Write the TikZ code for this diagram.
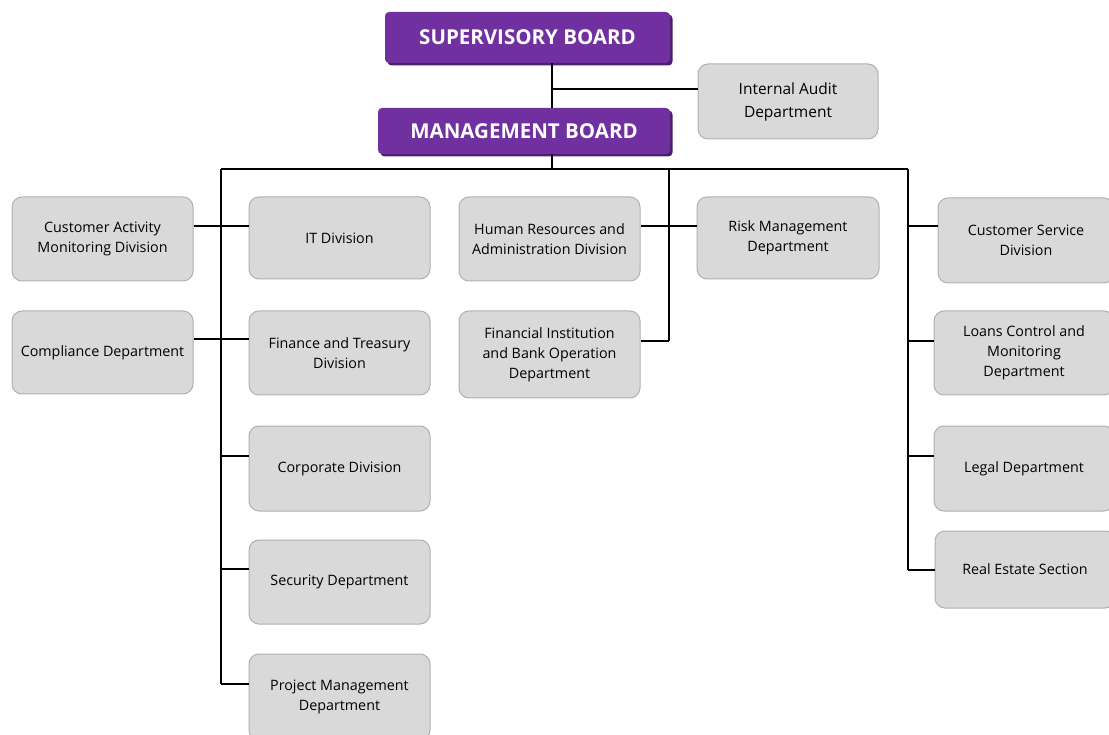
\documentclass[tikz,border=0pt]{standalone}
\usepackage{fontspec}
\setmainfont{Open Sans}
\usetikzlibrary{shadows}
\definecolor{boardPurple}{HTML}{7030A0}
\definecolor{boardShade}{HTML}{4B1F6C}
\definecolor{boxGrey}{HTML}{D9D9D9}
\definecolor{boxLine}{HTML}{B0B0B0}
\tikzstyle{bS}=[rectangle,rounded corners=4pt,fill=boardPurple,text=white,inner sep=0pt,
  font=\fontsize{20.5}{24}\selectfont\bfseries,
  drop shadow={shadow xshift=2.5pt,shadow yshift=-2.5pt,fill=boardShade,opacity=1}]
\tikzstyle{dS}=[rectangle,rounded corners=10pt,fill=boxGrey,draw=boxLine,line width=1pt,
  minimum width=181pt,minimum height=83pt,inner sep=0pt,align=center,
  font=\fontsize{14.3}{20}\selectfont]
\tikzstyle{eS}=[line width=2pt,black]

\begin{document}
\begin{tikzpicture}[x=1pt,y=-1pt]
                \useasboundingbox (0,0) rectangle (1109,735);
                % boards
                \draw (527.5,37.5) node[bS,minimum width=285pt,minimum height=51pt] (sb) {SUPERVISORY BOARD};
                \draw (524,131) node[bS,minimum width=292pt,minimum height=46pt] (mb) {MANAGEMENT BOARD};
                \draw (788,101.5) node[dS,minimum width=180pt,minimum height=75pt,font=\fontsize{15.5}{23}\selectfont] (ia) {Internal Audit\\Department};
                % left column
                \draw (102.5,239) node[dS,minimum height=84pt] (cam) {Customer Activity\\Monitoring Division};
                \draw (102.5,352.5) node[dS] (cd) {Compliance Department};
                \draw (339.5,238) node[dS,minimum height=82pt] (itd) {IT Division};
                \draw (339.5,353) node[dS,minimum height=84pt] (ftd) {Finance and Treasury\\Division};
                \draw (339.5,468.5) node[dS,minimum height=85pt] (cod) {Corporate Division};
                \draw (339.5,582) node[dS,minimum height=84pt] (sd) {Security Department};
                \draw (339.5,697) node[dS,minimum height=86pt] (pmd) {Project Management\\Department};
                % middle
                \draw (549.5,239) node[dS,minimum height=84pt] (hr) {Human Resources and\\Administration Division};
                \draw (549.5,354.5) node[dS,minimum height=87pt] (fib) {Financial Institution\\and Bank Operation\\Department};
                \draw (788,238) node[dS,minimum width=182pt,minimum height=82pt] (rmd) {Risk Management\\Department};
                % right column
                \draw (1026,240.5) node[dS,minimum width=176pt,minimum height=85pt] (csd) {Customer Service\\Division};
                \draw (1024,353) node[dS,minimum width=180pt,minimum height=84pt] (lcm) {Loans Control and\\Monitoring\\Department};
                \draw (1024,468.5) node[dS,minimum width=180pt,minimum height=85pt] (ld) {Legal Department};
                \draw (1025,569.5) node[dS,minimum width=180pt,minimum height=77pt] (res) {Real Estate Section};
                % spine points
                \coordinate (top) at (552,89);
                \coordinate (spL) at (221,169);
                \coordinate (spM) at (669,169);
                \coordinate (spR) at (908,169);
                \draw[eS] (sb.south -| top) -- (mb.north -| top);
                \draw[eS] (top) -- (ia.west |- top);
                \draw[eS] (mb.south -| top) -- (top |- spL);
                \draw[eS] (spL) -- (spR);
                \draw[eS] (spL) -- ([yshift=13pt]spL |- pmd.west);
                \draw[eS] (spM) -- ([yshift=13pt]spM |- fib.east);
                \draw[eS] (spR) -- ([yshift=-0.5pt]spR |- res.west);
                \path[eS]
                    ([yshift=13pt]cam.east) edge ([yshift=13pt]cam.east -| itd.west)
                    ([yshift=13pt]cd.east) edge ([yshift=13pt]cd.east -| ftd.west)
                    ([yshift=13pt]spL |- cod.west) edge ([yshift=13pt]cod.west)
                    ([yshift=13pt]spL |- sd.west) edge ([yshift=13pt]sd.west)
                    ([yshift=13pt]spL |- pmd.west) edge ([yshift=13pt]pmd.west)
                    ([yshift=13pt]hr.east) edge ([yshift=13pt]hr.east -| rmd.west)
                    ([yshift=13pt]fib.east) edge ([yshift=13pt]fib.east -| spM)
                    ([yshift=14pt]spR |- csd.west) edge ([yshift=14pt]csd.west)
                    ([yshift=12pt]spR |- lcm.west) edge ([yshift=12pt]lcm.west)
                    ([yshift=13pt]spR |- ld.west) edge ([yshift=13pt]ld.west)
                    ([yshift=-0.5pt]spR |- res.west) edge ([yshift=-0.5pt]res.west)
                ;
        \end{tikzpicture}
\end{document}
